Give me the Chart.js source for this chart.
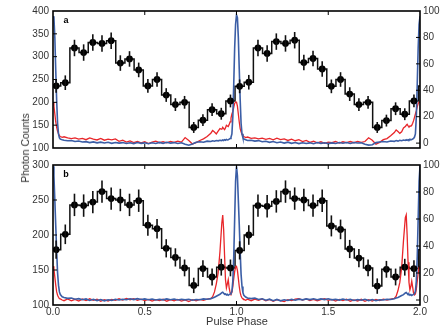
<!DOCTYPE html>
<html><head><meta charset="utf-8">
<script src="https://cdn.jsdelivr.net/npm/chart.js@4"></script>
<style>
html,body{margin:0;padding:0;background:#fff;width:446px;height:327px;overflow:hidden;position:relative;font-family:"Liberation Sans",Arial,sans-serif;}
canvas{position:absolute;left:0;}
#ca{top:0;width:446px;height:158px;}
#cb{top:155px;width:446px;height:172px;}
.yt{position:absolute;left:25px;top:148px;transform:translate(-50%,-50%) rotate(-90deg);font-size:10.5px;color:#333;white-space:nowrap;}
.xt{position:absolute;left:237px;top:321px;transform:translate(-50%,-50%);font-size:11px;color:#333;white-space:nowrap;}
</style></head><body>
<canvas id="ca" width="446" height="158"></canvas>
<canvas id="cb" width="446" height="172"></canvas>
<div class="yt">Photon Counts</div>
<div class="xt">Pulse Phase</div>
<script>
const binPhase = [0.017,0.067,0.117,0.167,0.217,0.267,0.317,0.367,0.417,0.467,0.517,0.567,0.617,0.667,0.717,0.767,0.817,0.867,0.917,0.967,
1.017,1.067,1.117,1.167,1.217,1.267,1.317,1.367,1.417,1.467,1.517,1.567,1.617,1.667,1.717,1.767,1.817,1.867,1.917,1.967];
const wrapPhase = [-0.033, 2.017];
const countsA = [236,243,319,309,331,329,335,286,295,271,236,250,216,195,200,145,161,184,175,203,
235,244,319,307,333,329,336,287,296,273,235,250,218,195,200,145,160,186,174,203];
const errA = [15,16,18,18,18,18,18,17,17,16,15,16,15,14,14,12,13,14,13,14,
15,16,18,18,18,18,18,17,17,17,15,16,15,14,14,12,13,14,13,14];
const countsB = [179,201,243,242,247,262,252,250,243,249,214,209,181,168,153,128,152,140,154,153,
178,200,242,241,248,262,252,250,242,249,213,208,180,167,153,127,151,140,154,152];
const errB = [13,14,16,16,16,16,16,16,16,16,15,14,13,13,12,11,12,12,12,12,
13,14,16,16,16,16,16,16,16,16,15,14,13,13,12,11,12,12,12,12];

const curvePhase = [0,0.005,0.01,0.015,0.02,0.025,0.03,0.035,0.04,0.05,0.06,
0.08,0.10,0.12,0.14,0.16,0.18,0.20,0.22,0.24,0.26,0.28,0.30,0.32,0.34,0.36,0.38,0.40,0.42,0.44,0.46,0.48,0.50,0.52,0.54,0.56,0.58,0.60,0.62,0.64,0.66,0.68,0.70,0.72,0.74,0.76,0.78,0.80,0.82,0.84,0.86,
0.87,0.88,0.89,0.90,0.91,0.92,
0.925,0.93,0.935,0.94,0.945,0.95,0.955,0.96,0.965,0.97,0.975,0.98,0.985,0.99,0.995,
1.0,1.005,1.01,1.015,1.02,1.025,1.03,1.035,1.04,1.05,1.06,
1.08,1.10,1.12,1.14,1.16,1.18,1.20,1.22,1.24,1.26,1.28,1.30,1.32,1.34,1.36,1.38,1.40,1.42,1.44,1.46,1.48,1.50,1.52,1.54,1.56,1.58,1.60,1.62,1.64,1.66,1.68,1.70,1.72,1.74,1.76,1.78,1.80,1.82,1.84,1.86,
1.87,1.88,1.89,1.90,1.91,1.92,
1.925,1.93,1.935,1.94,1.945,1.95,1.955,1.96,1.965,1.97,1.975,1.98,1.985,1.99,1.995,
2.0];

const blueA = [96,95,80,55,32,15,7,4,3,2.5,2.2,
1.8,2.0,1.2,1.6,0.8,1.1,0.4,0.9,0.2,0.7,0.1,0.6,-0.2,0.5,0.0,0.4,-0.3,0.3,-0.4,0.4,-0.2,0.2,-0.5,0.3,-0.3,0.5,-0.2,0.6,0.0,0.4,-0.3,0.3,-0.8,-1.6,-0.6,0.6,1.0,0.7,1.5,1.2,
1.8,1.4,2.0,1.7,2.2,1.9,
2.4,2.0,2.6,2.2,2.8,2.4,2.6,3.0,3.5,4.5,7,20,45,72,90,
97,95,80,56,33,15,7,4,3.2,2.6,2.0,
2.2,1.5,1.9,1.0,1.4,0.6,1.2,0.3,0.8,0.0,0.7,-0.2,0.4,-0.4,0.3,-0.3,0.2,-0.5,0.4,-0.2,0.3,-0.4,0.2,-0.3,0.5,-0.1,0.4,-0.3,0.5,0.1,0.3,-0.9,-1.5,-1.2,0.4,0.8,1.2,0.9,1.6,1.3,
1.9,1.5,2.1,1.8,2.3,2.0,
2.5,2.1,2.6,2.3,2.9,2.5,2.7,3.1,3.6,4.6,7,20,45,72,90,
96];
const redA = [31,28,22,16,12,9,7,5.5,5,4.4,4.8,
4.0,3.4,3.9,3.0,3.6,2.6,4.0,3.1,2.4,3.6,2.2,3.0,2.4,3.2,1.4,2.2,0.8,1.6,0.4,1.2,0.2,1.0,-0.4,0.8,1.5,0.3,1.1,0.2,1.3,0.5,1.5,0.8,4.2,2.0,-0.6,0.4,2.0,3.2,5.0,7.5,
9.5,8.4,7.0,9.0,11.0,10.5,
12.0,11.0,10.2,11.5,13.5,13.0,12.5,14.0,16.0,19.0,22.0,24.0,27.0,30.0,31.0,
31,28,22,16,11,8.5,6.5,5.5,5.0,4.2,4.6,
3.6,4.0,3.2,3.8,2.8,3.5,2.5,3.8,2.6,3.2,2.0,3.0,1.8,2.6,1.2,2.0,0.6,1.4,0.2,1.0,-0.2,0.8,0.3,1.2,0.0,1.0,0.4,1.2,0.3,1.3,0.6,1.2,4.0,2.2,-0.8,0.6,2.6,3.4,5.5,8.0,
10.0,8.8,7.4,8.6,11.5,12.5,
13.5,14.2,13.0,12.4,13.0,12.8,13.5,15.0,17.0,19.5,22.0,24.5,27.5,30.0,31.0,
31];
const blueB = [99,92,74,55,36,20,11,6,4,2.4,1.8,
1.2,1.5,0.6,1.0,0.2,0.8,-0.3,0.5,-0.4,0.3,-0.6,0.2,-0.3,0.5,0.0,0.6,0.2,0.9,0.3,1.0,0.4,0.8,0.2,0.7,0.0,0.6,0.1,0.8,0.2,0.7,0.0,0.6,0.1,0.5,-0.2,0.4,0.2,0.8,0.6,1.0,
1.5,2.0,2.8,3.5,4.2,5.5,
5.8,5.0,4.2,4.5,3.8,4.2,3.6,4.0,4.5,5.0,6.5,14,32,60,88,
99,92,74,56,36,19,10,5.5,3.5,2.2,1.5,
1.0,1.4,0.4,0.9,-0.2,0.6,-0.5,0.4,-0.6,0.2,-0.4,0.5,-0.2,0.6,0.1,0.8,0.3,0.9,0.2,0.8,0.3,0.9,0.1,0.6,-0.1,0.7,0.0,0.5,-0.3,0.4,-0.2,0.5,-0.4,0.3,-0.5,0.2,0.0,0.6,0.4,0.9,
1.4,1.9,2.6,3.3,4.0,5.2,
5.6,4.8,4.0,4.4,3.6,4.0,3.4,3.8,4.2,4.8,6.5,14,32,60,88,
99];
const redB = [25,23,17,11,6,3.5,2.0,1.0,0.8,0.0,-0.5,
0.8,-0.6,0.5,-0.8,0.7,-0.4,0.9,-0.2,0.6,-1.0,0.3,-0.7,0.5,-0.3,0.9,0.0,1.2,0.2,1.0,-0.3,0.6,-0.5,0.4,-0.8,0.3,-0.5,0.5,-0.9,0.2,-0.6,0.4,-0.8,0.1,-1.2,0.2,-0.6,0.5,-0.2,0.6,1.0,
2.5,6.0,12.0,20.0,36.0,57.0,
63.0,52.0,33.0,15.0,9.0,12.0,15.0,9.0,5.5,4.5,5.5,10.0,16.0,21.0,24.5,
25,22,16,10,5.5,3.0,1.5,0.8,0.5,-0.2,0.6,
-0.5,0.7,-0.3,0.8,-0.6,0.4,-0.9,0.3,-0.4,-1.2,0.2,-0.5,0.6,1.0,0.0,0.8,-0.4,0.5,-0.6,0.3,1.0,-0.2,0.5,-0.8,0.4,-0.5,0.6,-0.9,0.1,-0.7,0.5,-1.0,0.2,-0.8,0.4,-0.4,0.6,0.0,0.7,1.2,
2.8,7.0,13.0,24.0,44.0,61.0,
63.0,48.0,28.0,13.0,7.5,10.0,14.0,9.5,5.0,3.8,4.5,8.0,14.0,20.0,24.0,
25];

const leftTicksA = [100,150,200,250,300,350,400];
const leftTicksB = [100,150,200,250,300];
const rightTicks = [0,20,40,60,80,100];
const phaseTicks = [0,0.5,1.0,1.5,2.0];

const FONT = {family:'"Liberation Sans", Arial, sans-serif', size:10};
const TICKCOL = '#333';

function xy(xs, ys){ return xs.map((x,i)=>({x:x, y:ys[i]})); }

function decor(counts, errs, label){
  return {
    id:'decor',
    afterDatasetsDraw(chart){
      const ctx = chart.ctx, xs = chart.scales.x, ys = chart.scales.y, a = chart.chartArea;
      ctx.save();
      ctx.beginPath(); ctx.rect(a.left, a.top, a.right-a.left, a.bottom-a.top); ctx.clip();
      ctx.strokeStyle = '#111'; ctx.lineWidth = 1.6;
      for (let i=0;i<counts.length;i++){
        const px = xs.getPixelForValue(binPhase[i]);
        ctx.beginPath();
        ctx.moveTo(px, ys.getPixelForValue(counts[i]-errs[i]));
        ctx.lineTo(px, ys.getPixelForValue(counts[i]+errs[i]));
        ctx.stroke();
      }
      ctx.restore();
    },
    afterDraw(chart){
      const ctx = chart.ctx, a = chart.chartArea;
      const xs = chart.scales.x, ys = chart.scales.y, y2 = chart.scales.y2;
      ctx.save();
      ctx.strokeStyle = '#000'; ctx.lineWidth = 1.6;
      ctx.strokeRect(a.left, a.top, a.right-a.left, a.bottom-a.top);
      ctx.lineWidth = 1;
      const L = 4;
      ctx.beginPath();
      xs.ticks.forEach(t=>{
        const p = xs.getPixelForValue(t.value);
        if (p <= a.left+1 || p >= a.right-1) return;
        ctx.moveTo(p, a.top); ctx.lineTo(p, a.top+L);
        ctx.moveTo(p, a.bottom); ctx.lineTo(p, a.bottom-L);
      });
      ys.ticks.forEach(t=>{
        const p = ys.getPixelForValue(t.value);
        if (p <= a.top+1 || p >= a.bottom-1) return;
        ctx.moveTo(a.left, p); ctx.lineTo(a.left+L, p);
      });
      y2.ticks.forEach(t=>{
        const p = y2.getPixelForValue(t.value);
        if (p <= a.top+1 || p >= a.bottom-1) return;
        ctx.moveTo(a.right, p); ctx.lineTo(a.right-L, p);
      });
      ctx.stroke();
      ctx.fillStyle = '#000';
      ctx.font = 'bold 9px "Liberation Sans", Arial, sans-serif';
      ctx.textAlign = 'center'; ctx.textBaseline = 'middle';
      ctx.fillText(label, a.left+13, a.top+10);
      ctx.restore();
    }
  };
}

function makeChart(id, counts, errs, blue, red, yMin, yMax, yTicks, label, showX, padTop, xH){
  const step = [{x:wrapPhase[0], y:counts[counts.length-1]}].concat(xy(binPhase, counts)).concat([{x:wrapPhase[1], y:counts[0]}]);
  return new Chart(document.getElementById(id), {
    type:'line',
    data:{datasets:[
      {data:step, borderColor:'#111', borderWidth:1.5, stepped:'middle', pointRadius:0, yAxisID:'y', order:4},
      {data:xy(curvePhase, red), borderColor:'#e8262a', borderWidth:1.3, pointRadius:0, yAxisID:'y2', order:3},
      {data:xy(curvePhase, blue), borderColor:'#3b5ea6', borderWidth:1.6, pointRadius:0, yAxisID:'y2', order:2},
      {data:xy(binPhase, counts), showLine:false, pointRadius:3.4, pointBackgroundColor:'#000', pointBorderWidth:0, borderColor:'#000', yAxisID:'y', order:1}
    ]},
    options:{
      responsive:false, animation:false, devicePixelRatio:1, events:[],
      layout:{padding:{top:padTop, left:0, right:0, bottom:0}},
      plugins:{legend:{display:false}, tooltip:{enabled:false}},
      scales:{
        x:{type:'linear', min:0, max:2, position:'bottom',
          afterBuildTicks:s=>{s.ticks = phaseTicks.map(v=>({value:v}));},
          ticks:{display:showX, font:FONT, color:TICKCOL, padding:1, maxRotation:0, autoSkip:false, callback:v=>Number(v).toFixed(1)},
          grid:{display:false, drawTicks:false}, border:{display:false},
          afterFit:s=>{s.height = xH;}},
        y:{type:'linear', min:yMin, max:yMax, position:'left',
          afterBuildTicks:s=>{s.ticks = yTicks.map(v=>({value:v}));},
          ticks:{font:FONT, color:TICKCOL, padding:4},
          grid:{display:false, drawTicks:false}, border:{display:false},
          afterFit:s=>{s.width = 53;}},
        y2:{type:'linear', min:-3.7, max:100, position:'right',
          afterBuildTicks:s=>{s.ticks = rightTicks.map(v=>({value:v}));},
          ticks:{font:FONT, color:TICKCOL, padding:3},
          grid:{display:false, drawTicks:false}, border:{display:false},
          afterFit:s=>{s.width = 26;}}
      }
    },
    plugins:[decor(counts, errs, label)]
  });
}

makeChart('ca', countsA, errA, blueA, redA, 100, 400, leftTicksA, 'a', false, 11, 7);
makeChart('cb', countsB, errB, blueB, redB, 100, 300, leftTicksB, 'b', true, 10, 22);
</script>
</body></html>
